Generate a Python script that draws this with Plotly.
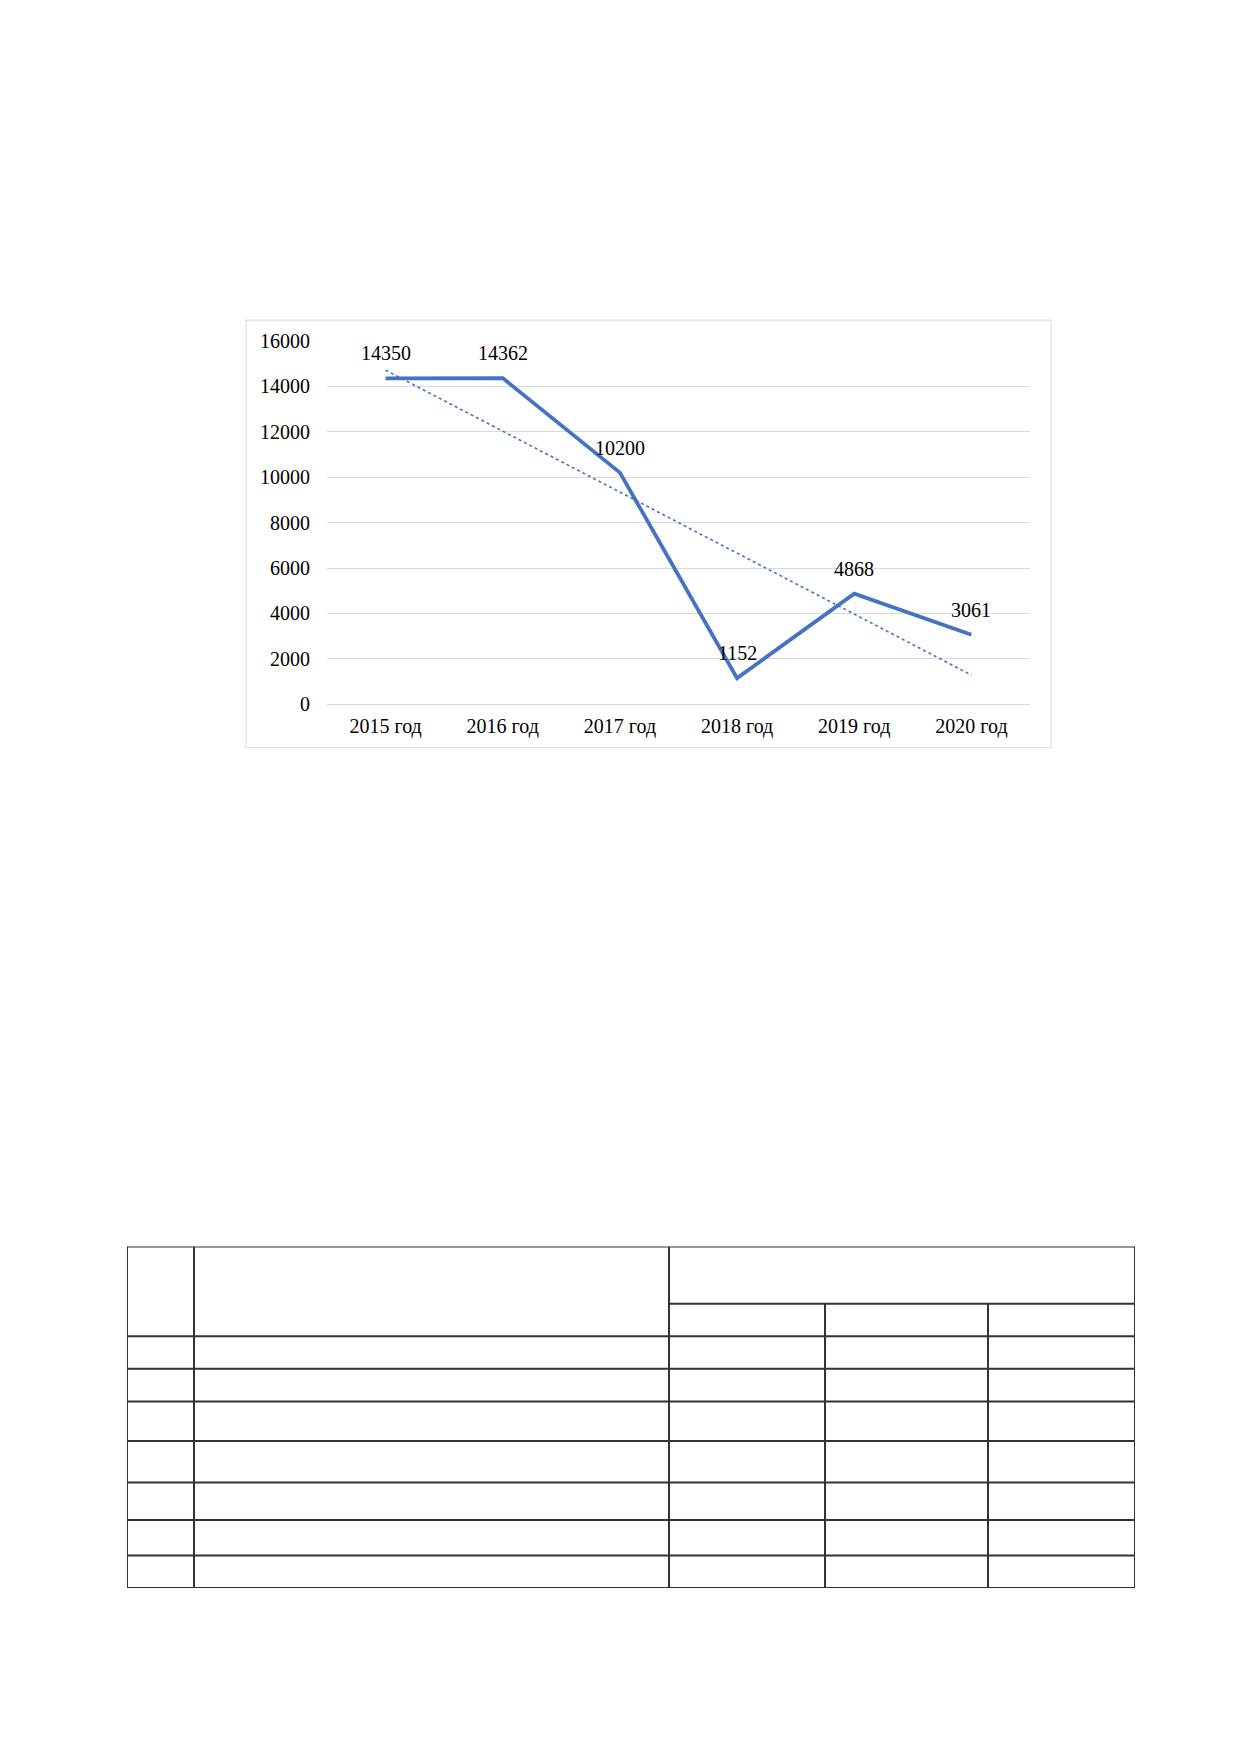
import numpy as np
import plotly.graph_objects as go

# chart data
years = ["2015 год", "2016 год", "2017 год", "2018 год", "2019 год", "2020 год"]
values = [14350, 14362, 10200, 1152, 4868, 3061]
y_ticks = [0, 2000, 4000, 6000, 8000, 10000, 12000, 14000, 16000]

# empty table below the chart (column widths / row heights)
table_col_widths = [67, 475, 156, 163, 147]
table_header_heights = [58, 33]
table_row_heights = [33, 33, 40, 42, 38, 36, 33]

W, H = 1240, 1754
BLUE = "#4472C4"
FONT = "Liberation Serif"
FSIZE = 20


def px_x(p):
    return p / W


def px_y(p):
    return 1 - p / H


# linear trendline like Excel's
idx = np.arange(len(values))
slope, intercept = np.polyfit(idx, values, 1)
trend = intercept + slope * idx

fig = go.Figure()

fig.add_trace(go.Scatter(
    x=years, y=trend, mode="lines",
    line=dict(color=BLUE, width=1.6, dash="dot"),
    hoverinfo="skip", showlegend=False,
))
fig.add_trace(go.Scatter(
    x=years, y=values, mode="lines",
    line=dict(color=BLUE, width=3.8),
    showlegend=False,
))

# data labels
for yr, v in zip(years, values):
    fig.add_annotation(
        x=yr, y=v, xref="x", yref="y", text=str(v), showarrow=False,
        yanchor="middle", yshift=25,
        font=dict(family=FONT, size=FSIZE, color="black"),
    )

# chart area border
fig.add_shape(type="rect", xref="paper", yref="paper",
              x0=px_x(238), x1=px_x(1043), y0=px_y(738), y1=px_y(305),
              line=dict(color="#d9d9d9", width=1), layer="below")

# table grid, built from the cell sizes
col_edges = np.concatenate([[0], np.cumsum(table_col_widths)])
row_edges = np.concatenate([[0], np.cumsum(table_header_heights + table_row_heights)])
total_w, total_h = col_edges[-1], row_edges[-1]
header_sub = table_header_heights[0]

tline = dict(color="#333333", width=2)
segs = []
# outer and full-height verticals
for cx in col_edges[[0, 1, 2, -1]]:
    segs.append((cx, 0, cx, total_h))
# verticals of the split header (start below the merged cell)
for cx in col_edges[3:-1]:
    segs.append((cx, header_sub, cx, total_h))
# top border
segs.append((0, 0, total_w, 0))
# header sub line over the right columns
segs.append((col_edges[2], header_sub, total_w, header_sub))
# row lines
for ry in row_edges[len(table_header_heights):]:
    segs.append((0, ry, total_w, ry))
for x0, y0, x1, y1 in segs:
    fig.add_shape(type="line", xref="x2", yref="y2",
                  x0=x0, y0=y0, x1=x1, y1=y1, line=tline)

fig.update_layout(
    width=W, height=H,
    margin=dict(l=0, r=0, t=0, b=0),
    paper_bgcolor="white", plot_bgcolor="white",
    font=dict(family=FONT, size=FSIZE, color="black"),
    xaxis=dict(
        domain=[px_x(319), px_x(1022)],
        type="category", range=[-0.5, 5.5],
        showgrid=False, zeroline=False, showline=False,
        ticks="", ticklabelstandoff=8,
        tickfont=dict(family=FONT, size=FSIZE, color="black"),
    ),
    yaxis=dict(
        domain=[px_y(694), px_y(326)],
        range=[0, 16000], tickvals=y_ticks, tickformat="d",
        showgrid=True, gridcolor="#d9d9d9", gridwidth=1,
        zeroline=True, zerolinecolor="#d9d9d9", zerolinewidth=1,
        showline=False, ticks="", ticklabelstandoff=16,
        tickfont=dict(family=FONT, size=FSIZE, color="black"),
    ),
    xaxis2=dict(
        domain=[px_x(119), px_x(1127)], range=[0, total_w],
        visible=False, anchor="y2",
    ),
    yaxis2=dict(
        domain=[px_y(1589), px_y(1243)], range=[total_h, 0],
        visible=False, anchor="x2",
    ),
)

fig.write_html("out.html")
